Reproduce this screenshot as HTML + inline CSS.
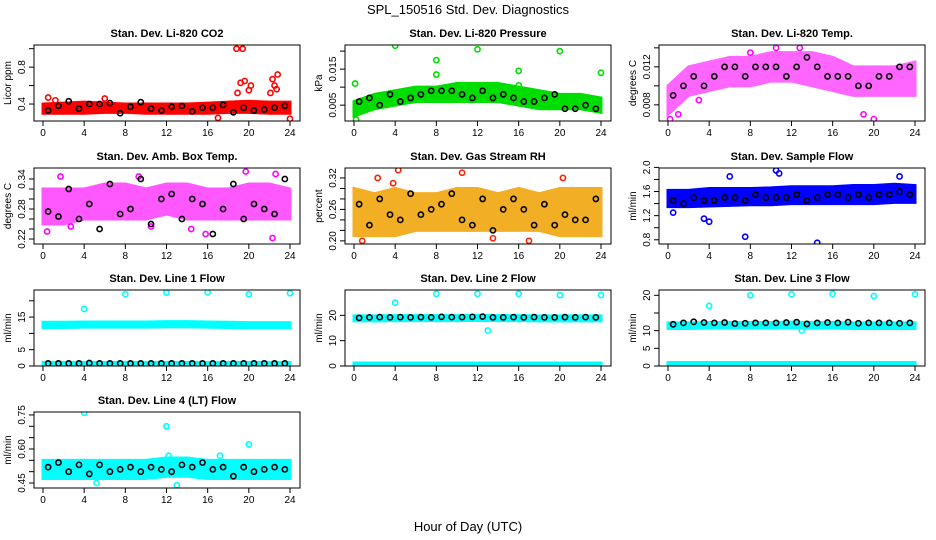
<!DOCTYPE html>
<html><head><meta charset="utf-8"><style>
html,body{margin:0;padding:0;background:#fff;width:936px;height:540px;overflow:hidden}
svg{font-family:"Liberation Sans",sans-serif}
</style></head><body>
<svg id="chart" width="936" height="540" viewBox="0 0 936 540" xmlns="http://www.w3.org/2000/svg">
<text x="468" y="14" text-anchor="middle" font-size="13">SPL_150516  Std. Dev. Diagnostics</text>
<text x="468" y="531" text-anchor="middle" font-size="13">Hour of Day (UTC)</text>
</svg>
<script>
const bandHours=[0,2,4,6,8,10,12,14,16,18,20,22,24];
const blackHours=[0.5,1.5,2.5,3.5,4.5,5.5,6.5,7.5,8.5,9.5,10.5,11.5,12.5,13.5,14.5,15.5,16.5,17.5,18.5,19.5,20.5,21.5,22.5,23.5];
const xTicks=[0,4,8,12,16,20,24];

const co2Lo=[0.30,0.30,0.30,0.31,0.31,0.30,0.30,0.30,0.30,0.31,0.31,0.30,0.30];
const co2Hi=[0.40,0.41,0.42,0.41,0.40,0.40,0.40,0.40,0.41,0.42,0.43,0.42,0.42];
const co2OutH=[0.5,1.2,6,18.8,19.4,19.2,19.6,18.9,20,20.2,22.8,22.3,22.5,22.1,22.7,17,24];
const co2OutV=[0.47,0.44,0.46,1.0,1.0,0.63,0.65,0.52,0.55,0.60,0.72,0.67,0.60,0.52,0.56,0.25,0.24];
const co2Black=[0.33,0.38,0.43,0.35,0.40,0.40,0.41,0.30,0.37,0.42,0.35,0.33,0.37,0.38,0.32,0.36,0.36,0.39,0.31,0.36,0.33,0.34,0.36,0.38];

const presLo=[0.002,0.004,0.005,0.006,0.006,0.006,0.006,0.006,0.005,0.004,0.004,0.004,0.003];
const presHi=[0.006,0.008,0.009,0.010,0.010,0.011,0.011,0.011,0.010,0.009,0.008,0.008,0.007];
const presOutH=[0.1,4,8,8,12,16,16,20,24,0.2];
const presOutV=[0.011,0.0215,0.0175,0.0135,0.0205,0.0145,0.0105,0.020,0.014,0.001];
const presBlack=[0.006,0.007,0.005,0.008,0.006,0.007,0.008,0.009,0.009,0.009,0.008,0.007,0.009,0.007,0.008,0.007,0.006,0.006,0.007,0.008,0.004,0.004,0.005,0.004];

const tempLo=[0.007,0.009,0.0095,0.010,0.010,0.0105,0.0105,0.010,0.0095,0.009,0.009,0.009,0.009];
const tempHi=[0.010,0.012,0.0125,0.013,0.013,0.0135,0.0135,0.0135,0.013,0.012,0.012,0.012,0.0125];
const tempOutH=[0.2,1,10.5,12.8,19,20,8,3];
const tempOutV=[0.0065,0.007,0.014,0.014,0.007,0.0065,0.0135,0.0085];
const tempBlack=[0.009,0.010,0.011,0.010,0.011,0.012,0.012,0.011,0.012,0.012,0.012,0.011,0.012,0.013,0.012,0.011,0.011,0.011,0.010,0.010,0.011,0.011,0.012,0.012];

const boxLo=[0.25,0.25,0.26,0.26,0.26,0.26,0.27,0.26,0.26,0.26,0.26,0.26,0.26];
const boxHi=[0.32,0.32,0.32,0.33,0.33,0.32,0.33,0.33,0.32,0.32,0.33,0.33,0.32];
const boxOutH=[0.4,1.7,15.8,19.7,22.3,22.6,9.3,2.7,14.4,10.5];
const boxOutV=[0.235,0.345,0.23,0.355,0.222,0.35,0.345,0.245,0.24,0.245];
const boxBlack=[0.275,0.265,0.32,0.26,0.29,0.24,0.33,0.27,0.28,0.34,0.25,0.30,0.31,0.26,0.30,0.29,0.23,0.28,0.33,0.26,0.29,0.28,0.27,0.34];

const rhLo=[0.21,0.21,0.21,0.22,0.22,0.22,0.22,0.22,0.22,0.22,0.21,0.21,0.21];
const rhHi=[0.30,0.29,0.30,0.29,0.29,0.30,0.30,0.29,0.30,0.29,0.30,0.30,0.30];
const rhOutH=[4.3,2.3,10.5,13.5,20.3,0.8,3.8,17];
const rhOutV=[0.335,0.32,0.33,0.205,0.32,0.20,0.31,0.20];
const rhBlack=[0.27,0.23,0.28,0.25,0.24,0.29,0.25,0.26,0.27,0.29,0.24,0.23,0.28,0.22,0.26,0.28,0.26,0.23,0.27,0.23,0.25,0.24,0.24,0.28];

const flowLo=[1.35,1.35,1.36,1.37,1.38,1.38,1.40,1.40,1.40,1.40,1.40,1.42,1.42];
const flowHi=[1.62,1.62,1.65,1.65,1.65,1.66,1.68,1.68,1.68,1.70,1.70,1.72,1.70];
const flowOutH=[4,3.5,7.5,14.5,10.5,10.8,6,22.5,0.5];
const flowOutV=[1.1,1.15,0.85,0.75,1.95,1.9,1.85,1.85,1.25];
const flowBlack=[1.45,1.40,1.50,1.45,1.45,1.50,1.50,1.45,1.55,1.50,1.50,1.50,1.55,1.45,1.50,1.55,1.55,1.50,1.55,1.50,1.55,1.55,1.60,1.55];

const l1Lo=[11.8,11.8,11.9,11.9,11.9,11.9,12.0,12.0,11.9,11.8,11.7,11.7,11.7];
const l1Hi=[13.4,13.4,13.5,13.5,13.5,13.5,13.6,13.6,13.5,13.4,13.3,13.3,13.3];
const l1Lo2=[0.3,0.3,0.3,0.3,0.3,0.3,0.3,0.3,0.3,0.3,0.3,0.3,0.3];
const l1Hi2=[1.1,1.1,1.1,1.1,1.1,1.1,1.1,1.1,1.1,1.1,1.1,1.1,1.1];
const l1OutH=[4,8,12,16,20,24];
const l1OutV=[17.5,22,22.5,22.6,22,22.3];
const l1Black=[0.8,0.8,0.8,0.8,0.9,0.8,0.8,0.8,0.8,0.8,0.8,0.8,0.8,0.8,0.8,0.8,0.8,0.8,0.8,0.8,0.8,0.8,0.8,0.8];

const l2Lo=[17.8,17.8,17.9,17.9,17.9,17.9,18.0,17.9,17.9,17.8,17.8,17.8,17.8];
const l2Hi=[19.8,19.8,19.9,19.9,19.9,19.9,20.0,19.9,19.9,19.8,19.8,19.8,19.8];
const l2Lo2=[0.1,0.1,0.1,0.1,0.1,0.1,0.1,0.1,0.1,0.1,0.1,0.1,0.1];
const l2Hi2=[1.2,1.2,1.2,1.2,1.2,1.2,1.2,1.2,1.2,1.2,1.2,1.2,1.2];
const l2OutH=[4,8,12,16,20,24,13];
const l2OutV=[25,28.5,28.5,28.5,28,28,14];
const l2Black=[19,19.2,19.3,19.2,19.3,19.2,19.3,19.2,19.4,19.3,19.3,19.4,19.5,19.2,19.2,19.3,19.2,19.3,19.2,19.2,19.3,19.2,19.3,19.2];

const l3Lo=[10.6,10.6,10.7,10.7,10.7,10.7,10.8,10.7,10.7,10.6,10.6,10.6,10.6];
const l3Hi=[12.2,12.2,12.3,12.3,12.3,12.3,12.4,12.3,12.3,12.2,12.2,12.2,12.2];
const l3Lo2=[0.1,0.1,0.1,0.1,0.1,0.1,0.1,0.1,0.1,0.1,0.1,0.1,0.1];
const l3Hi2=[1.0,1.0,1.0,1.0,1.0,1.0,1.0,1.0,1.0,1.0,1.0,1.0,1.0];
const l3OutH=[4,8,12,16,20,24,13];
const l3OutV=[17,20,20.3,20.4,19.8,20.3,10];
const l3Black=[11.8,12.2,12.5,12.3,12.2,12.3,12.0,12.1,12.2,12.2,12.2,12.3,12.4,11.9,12.2,12.3,12.2,12.4,12.1,12.2,12.2,12.2,12.1,12.2];

const l4Lo=[0.47,0.47,0.47,0.47,0.47,0.47,0.48,0.48,0.47,0.47,0.47,0.47,0.47];
const l4Hi=[0.55,0.55,0.55,0.55,0.55,0.55,0.56,0.56,0.55,0.55,0.55,0.55,0.55];
const l4OutH=[4,12,20,13,5.2,12.2,17.2];
const l4OutV=[0.76,0.70,0.62,0.44,0.45,0.57,0.57];
const l4Black=[0.52,0.54,0.50,0.53,0.49,0.53,0.50,0.51,0.52,0.50,0.52,0.51,0.50,0.53,0.52,0.54,0.51,0.52,0.48,0.52,0.50,0.51,0.52,0.51];

const NS='http://www.w3.org/2000/svg';
const svg=document.getElementById('chart');
function mk(tag,attrs,parent){const e=document.createElementNS(NS,tag);for(const k in attrs)e.setAttribute(k,attrs[k]);(parent||svg).appendChild(e);return e;}

const colL=[34,345,659], rowT=[45,168,290,412], W=266, H=76;
const panels=[
 {key:'co2',title:'Stan. Dev. Li-820 CO2',ylab:'Licor ppm',c:0,r:0,ymin:0.216,ymax:1.04,ticks:[0.4,0.6,0.8,1.0],labs:['0.4','','0.8',''],col:'#ff0000',lo:co2Lo,hi:co2Hi,oh:co2OutH,ov:co2OutV,bk:co2Black},
 {key:'pressure',title:'Stan. Dev. Li-820 Pressure',ylab:'kPa',c:1,r:0,ymin:0.0006,ymax:0.0217,ticks:[0.005,0.010,0.015,0.020],labs:['0.005','','0.015',''],col:'#00dd00',lo:presLo,hi:presHi,oh:presOutH,ov:presOutV,bk:presBlack},
 {key:'temp',title:'Stan. Dev. Li-820 Temp.',ylab:'degrees C',c:2,r:0,ymin:0.0063,ymax:0.0143,ticks:[0.008,0.010,0.012,0.014],labs:['0.008','','0.012',''],col:'#ff00ff',lo:tempLo,hi:tempHi,oh:tempOutH,ov:tempOutV,bk:tempBlack,op:0.6},
 {key:'box-temp',title:'Stan. Dev. Amb. Box Temp.',ylab:'degrees C',c:0,r:1,ymin:0.21,ymax:0.362,ticks:[0.22,0.24,0.26,0.28,0.30,0.32,0.34],labs:['0.22','','','0.28','','','0.34'],col:'#ff00ff',lo:boxLo,hi:boxHi,oh:boxOutH,ov:boxOutV,bk:boxBlack,op:0.65},
 {key:'rh',title:'Stan. Dev. Gas Stream RH',ylab:'percent',c:1,r:1,ymin:0.194,ymax:0.339,ticks:[0.20,0.22,0.24,0.26,0.28,0.30,0.32],labs:['0.20','','','0.26','','','0.32'],col:'#f0a000',lo:rhLo,hi:rhHi,oh:rhOutH,ov:rhOutV,bk:rhBlack,op:0.85},
 {key:'sample-flow',title:'Stan. Dev. Sample Flow',ylab:'ml/min',c:2,r:1,ymin:0.73,ymax:1.99,ticks:[0.8,1.0,1.2,1.4,1.6,1.8,2.0],labs:['0.8','','1.2','','1.6','','2.0'],col:'#0000ff',lo:flowLo,hi:flowHi,oh:flowOutH,ov:flowOutV,bk:flowBlack},
 {key:'line1',title:'Stan. Dev. Line 1 Flow',ylab:'ml/min',c:0,r:2,ymin:0,ymax:23.3,ticks:[0,5,10,15,20],labs:['0','5','','15',''],col:'#00ffff',lo:l1Lo,hi:l1Hi,lo2:l1Lo2,hi2:l1Hi2,oh:l1OutH,ov:l1OutV,bk:l1Black},
 {key:'line2',title:'Stan. Dev. Line 2 Flow',ylab:'ml/min',c:1,r:2,ymin:0,ymax:30,ticks:[0,10,20],labs:['0','10','20'],col:'#00ffff',lo:l2Lo,hi:l2Hi,lo2:l2Lo2,hi2:l2Hi2,oh:l2OutH,ov:l2OutV,bk:l2Black},
 {key:'line3',title:'Stan. Dev. Line 3 Flow',ylab:'ml/min',c:2,r:2,ymin:0,ymax:21.5,ticks:[0,5,10,15,20],labs:['0','5','10','','20'],col:'#00ffff',lo:l3Lo,hi:l3Hi,lo2:l3Lo2,hi2:l3Hi2,oh:l3OutH,ov:l3OutV,bk:l3Black},
 {key:'line4',title:'Stan. Dev. Line 4 (LT) Flow',ylab:'ml/min',c:0,r:3,ymin:0.428,ymax:0.763,ticks:[0.45,0.50,0.55,0.60,0.65,0.70,0.75],labs:['0.45','','','0.60','','','0.75'],col:'#00ffff',lo:l4Lo,hi:l4Hi,oh:l4OutH,ov:l4OutV,bk:l4Black}
];

panels.forEach(p=>{
 const L=colL[p.c], T=rowT[p.r], B=T+H;
 const g=mk('g',{});
 
 
 const xs=h=>L+9+h*(247/24);
 const ys=v=>B-(v-p.ymin)/(p.ymax-p.ymin)*H;
 const t=mk('text',{x:L+W/2,y:T-8,'text-anchor':'middle','font-size':'11','font-weight':'bold'},g);
 
 
 t.textContent=p.title;
 const clip=mk('clipPath',{id:'clip-'+p.key},g);
 mk('rect',{x:L,y:T,width:W,height:H},clip);
 const plot=mk('g',{'clip-path':'url(#clip-'+p.key+')'},g);
 function band(lo,hi,name){
  let d='M'+bandHours.map((h,i)=>xs(h)+','+ys(hi[i])).join(' L');
  d+=' L'+bandHours.slice().reverse().map((h,i)=>xs(h)+','+ys(lo[lo.length-1-i])).join(' L')+'Z';
  const b=mk('path',{d:d,fill:p.col,stroke:p.col,'stroke-width':3,opacity:p.op||1},plot);
  
  
 }
 band(p.lo,p.hi,'data-band');
 if(p.lo2) band(p.lo2,p.hi2,'data-band-low');
 p.oh.forEach((h,i)=>{
  const c=mk('circle',{cx:xs(h),cy:ys(p.ov[i]),r:2.6,fill:'none',stroke:p.key==='rh'?'#ff2000':p.col,'stroke-width':1.6},plot);
  
  
 });
 p.bk.forEach((v,i)=>{
  const c=mk('circle',{cx:xs(blackHours[i]),cy:ys(v),r:2.6,fill:'none',stroke:'#000','stroke-width':1.6},plot);
  
  
 });
 const box=mk('rect',{x:L,y:T,width:W,height:H,fill:'none',stroke:'#000','stroke-width':1},g);
 
 
 xTicks.forEach(h=>{
  mk('line',{x1:xs(h),x2:xs(h),y1:B,y2:B+5,stroke:'#000'},g);
  const tl=mk('text',{x:xs(h),y:B+15,'text-anchor':'middle','font-size':'10'},g);
  
  
  tl.textContent=h;
 });
 p.ticks.forEach((v,i)=>{
  const y=ys(v); if(y<T-1||y>B+1) return;
  mk('line',{x1:L-5,x2:L,y1:y,y2:y,stroke:'#000'},g);
  if(p.labs[i]){
   const tl=mk('text',{x:L-9,y:y,'text-anchor':'middle','font-size':'10',transform:'rotate(-90 '+(L-9)+' '+y+')'},g);
   
   
   tl.textContent=p.labs[i];
  }
 });
 const yl=mk('text',{x:L-23,y:T+H/2,'text-anchor':'middle','font-size':'10',transform:'rotate(-90 '+(L-23)+' '+(T+H/2)+')'},g);
 
 
 yl.textContent=p.ylab;
});
</script>
</body></html>
